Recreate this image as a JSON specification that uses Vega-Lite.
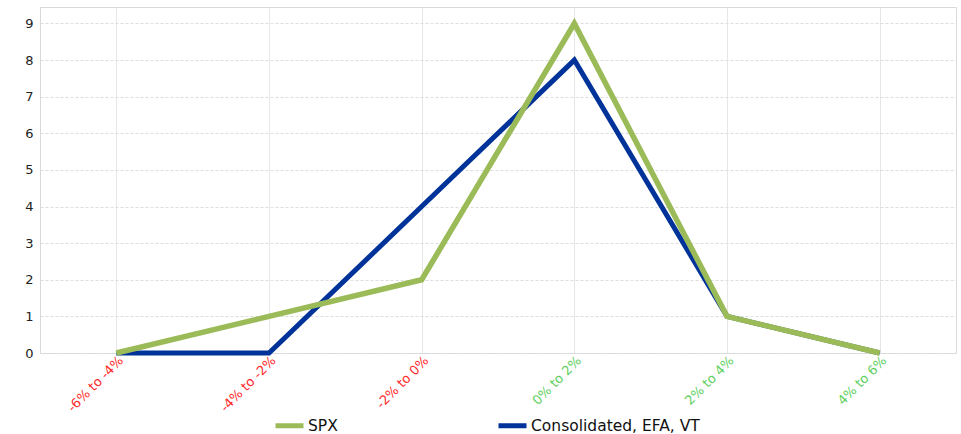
{
  "$schema": "https://vega.github.io/schema/vega-lite/v6.json",
  "width": 916,
  "height": 346,
  "autosize": {"type": "none"},
  "padding": {"left": 40, "top": 7, "right": 5, "bottom": 81},
  "background": "white",
  "config": {
    "view": {"stroke": "#d9d9d9", "strokeWidth": 1},
    "font": "DejaVu Sans"
  },
  "data": {
    "values": [
      {"range": "-6% to -4%", "series": "SPX", "count": 0},
      {"range": "-4% to -2%", "series": "SPX", "count": 1},
      {"range": "-2% to 0%", "series": "SPX", "count": 2},
      {"range": "0% to 2%", "series": "SPX", "count": 9},
      {"range": "2% to 4%", "series": "SPX", "count": 1},
      {"range": "4% to 6%", "series": "SPX", "count": 0},
      {"range": "-6% to -4%", "series": "Consolidated, EFA, VT", "count": 0},
      {"range": "-4% to -2%", "series": "Consolidated, EFA, VT", "count": 0},
      {"range": "-2% to 0%", "series": "Consolidated, EFA, VT", "count": 4},
      {"range": "0% to 2%", "series": "Consolidated, EFA, VT", "count": 8},
      {"range": "2% to 4%", "series": "Consolidated, EFA, VT", "count": 1},
      {"range": "4% to 6%", "series": "Consolidated, EFA, VT", "count": 0}
    ]
  },
  "encoding": {
    "x": {
      "field": "range",
      "type": "ordinal",
      "sort": ["-6% to -4%", "-4% to -2%", "-2% to 0%", "0% to 2%", "2% to 4%", "4% to 6%"],
      "scale": {"type": "point", "padding": 0.5},
      "axis": {
        "title": null,
        "domain": false,
        "ticks": false,
        "labelAngle": -45,
        "labelAlign": "right",
        "labelBaseline": "top",
        "labelPadding": 1,
        "labelFontSize": 13,
        "labelFont": "DejaVu Sans",
        "labelColor": {"condition": {"test": "indexof(datum.label, '-') === 0", "value": "#ff2a2a"}, "value": "#5ecf5e"},
        "grid": true,
        "gridColor": "#e6e6e6",
        "gridWidth": 1
      }
    },
    "y": {
      "field": "count",
      "type": "quantitative",
      "scale": {"domain": [0, 9.45], "nice": false},
      "axis": {
        "title": null,
        "domain": false,
        "ticks": false,
        "values": [0, 1, 2, 3, 4, 5, 6, 7, 8, 9],
        "labelPadding": 7,
        "labelFontSize": 13,
        "labelColor": "#222222",
        "grid": true,
        "gridColor": "#dddddd",
        "gridDash": [3, 2],
        "gridWidth": 1
      }
    },
    "color": {
      "field": "series",
      "type": "nominal",
      "scale": {"domain": ["SPX", "Consolidated, EFA, VT"], "range": ["#9bbb59", "#003399"]},
      "legend": {
        "title": null,
        "orient": "none",
        "direction": "horizontal",
        "legendX": 233,
        "legendY": 402,
        "padding": 0,
        "symbolType": "stroke",
        "symbolSize": 784,
        "symbolStrokeWidth": 5,
        "labelFontSize": 15.5,
        "labelLimit": 400,
        "labelColor": "#111111",
        "labelOffset": 2,
        "columnPadding": 150
      }
    }
  },
  "layer": [
    {
      "transform": [{"filter": "datum.series === 'Consolidated, EFA, VT'"}],
      "mark": {"type": "line", "strokeWidth": 5}
    },
    {
      "transform": [{"filter": "datum.series === 'SPX'"}],
      "mark": {"type": "line", "strokeWidth": 5.5}
    }
  ]
}
